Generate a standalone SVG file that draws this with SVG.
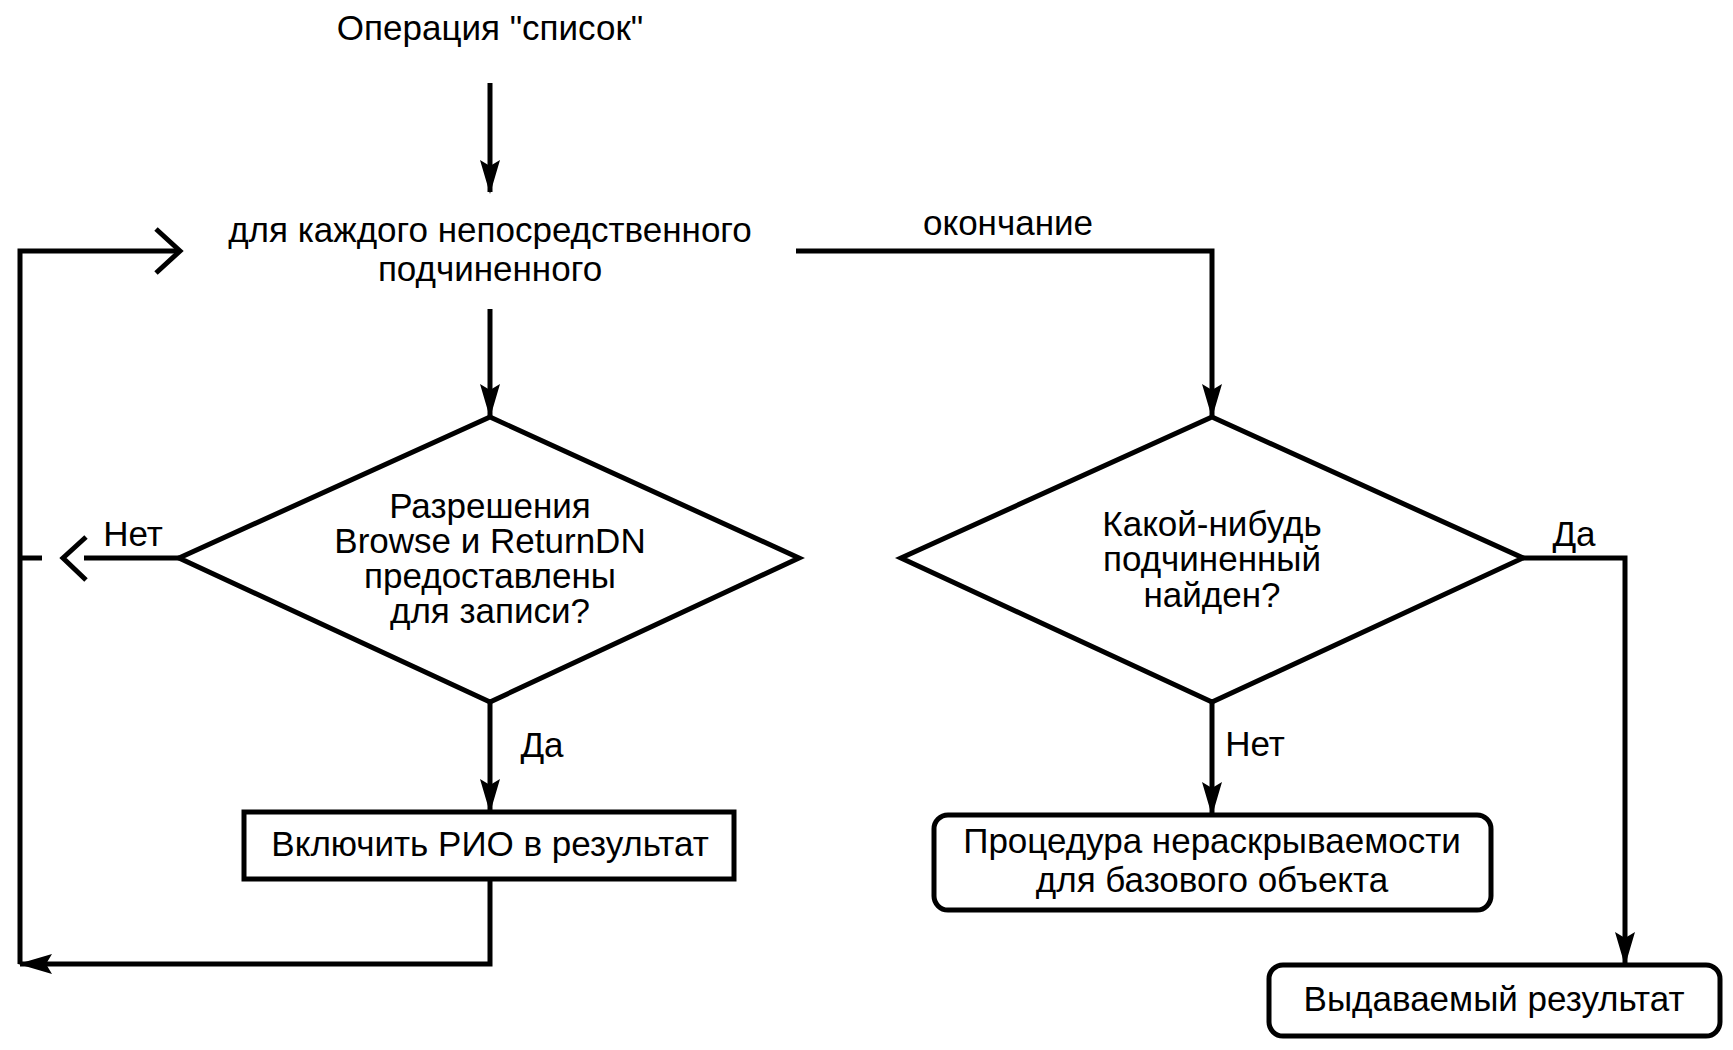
<svg xmlns="http://www.w3.org/2000/svg" width="1733" height="1050" viewBox="0 0 1733 1050">
<style>
text{font-family:"Liberation Sans",Arial,sans-serif;font-size:35px;fill:#000;text-anchor:middle}
.s{fill:none;stroke:#000;stroke-width:5;stroke-linejoin:miter}
.box{fill:#fff;stroke:#000;stroke-width:5}
</style>
<defs>
<marker id="ah" markerWidth="34" markerHeight="22" refX="32" refY="11" orient="auto" markerUnits="userSpaceOnUse" viewBox="0 0 34 22">
<path d="M0,1 L34,11 L0,21 L6,11 Z" fill="#000"/>
</marker>
</defs>
<g id="connectors">
<path class="s" d="M490,83 V192" marker-end="url(#ah)"/>
<path class="s" d="M490,309 V416" marker-end="url(#ah)"/>
<path class="s" d="M796,251 H1212 V416" marker-end="url(#ah)"/>
<path class="s" d="M490,702 V811" marker-end="url(#ah)"/>
<path class="s" d="M490,879 V964 H20" marker-end="url(#ah)"/>
<path class="s" d="M20,964 V251 H180"/>
<path class="s" d="M156,229 L180,251 L156,273"/>
<path class="s" d="M179,558 H84"/>
<path class="s" d="M86,537 L63,558 L86,580"/>
<path class="s" d="M20,558 H42"/>
<path class="s" d="M1212,702 V814" marker-end="url(#ah)"/>
<path class="s" d="M1523,558 H1625 V964" marker-end="url(#ah)"/>
</g>
<g id="start"><text x="490" y="40">Операция "список"</text></g>
<g id="loop"><text x="490" y="242">для каждого непосредственного</text><text x="490" y="281">подчиненного</text></g>
<text x="1008" y="235">окончание</text>
<g id="decision1">
<polygon class="box" points="490,417 799,558 490,702 179,558"/>
<text x="490" y="518">Разрешения</text>
<text x="490" y="553">Browse и ReturnDN</text>
<text x="490" y="588">предоставлены</text>
<text x="490" y="623">для записи?</text>
</g>
<g id="decision2">
<polygon class="box" points="1212,417 1523,558 1212,702 901,558"/>
<text x="1212" y="536">Какой-нибудь</text>
<text x="1212" y="571">подчиненный</text>
<text x="1212" y="607">найден?</text>
</g>
<text x="133" y="546">Нет</text>
<text x="542" y="757">Да</text>
<text x="1255" y="756">Нет</text>
<text x="1574" y="546">Да</text>
<g id="include">
<rect class="box" x="244" y="812" width="490" height="67"/>
<text x="490" y="856">Включить РИО в результат</text>
</g>
<g id="procedure">
<rect class="box" x="934" y="815" width="557" height="95" rx="14"/>
<text x="1212" y="853">Процедура нераскрываемости</text>
<text x="1212" y="892">для базового объекта</text>
</g>
<g id="result">
<rect class="box" x="1269" y="965" width="451" height="71" rx="14"/>
<text x="1494" y="1011">Выдаваемый результат</text>
</g>
</svg>
